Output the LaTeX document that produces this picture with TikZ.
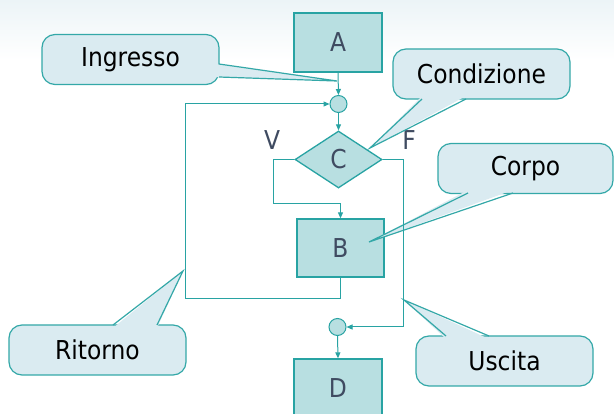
\documentclass[tikz,border=0pt]{standalone}
\usepackage{fontspec}
\setmainfont{DejaVu Sans Condensed}
\usetikzlibrary{arrows.meta,shapes.geometric}

\definecolor{flowline}{RGB}{40,163,163}
\definecolor{boxfill}{RGB}{184,223,225}
\definecolor{calloutfill}{RGB}{218,235,241}
\definecolor{calloutline}{RGB}{52,168,168}
\definecolor{letter}{RGB}{63,75,97}
\definecolor{haze}{RGB}{236,244,247}

\begin{document}
\begin{tikzpicture}[x=1pt,y=-1pt,
  big/.style={font=\fontsize{26}{30}\selectfont},
  stepbox/.style={draw=flowline, fill=boxfill, line width=1.3pt,
    minimum width=88pt, minimum height=59pt, inner sep=0pt, text=letter, big},
  junction/.style={circle, draw=flowline, fill=boxfill, line width=1pt,
    minimum size=17pt, inner sep=0pt},
  test/.style={diamond, draw=flowline, fill=boxfill, line width=1.3pt,
    minimum width=87pt, minimum height=57pt, inner sep=0pt, text=letter, big},
  branch/.style={text=letter, big, inner sep=0pt},
  link/.style={draw=flowline, line width=1pt},
  flow/.style={link, -{Triangle[length=6pt,width=5pt]}},
  bubble/.style={draw=calloutline, fill=calloutfill, line width=1.2pt,
    rounded corners=13pt, minimum width=177pt, minimum height=50pt,
    inner sep=0pt, text=black, big},
  pointerfill/.style={fill=calloutfill},
  pointerline/.style={draw=calloutline, line width=1.2pt, line join=miter},
]
\useasboundingbox (0,0) rectangle (614,414);
\fill[white] (0,0) rectangle (614,414);
\shade[top color=haze, bottom color=white] (0,0) rectangle (614,60);

% flowchart blocks
\node[stepbox] (A) at (338,42.5) {A};
\node[junction] (j1) at (338.5,104) {};
\node[test] (C) at (338.5,159.5) {C};
\node[stepbox, minimum width=87pt, minimum height=58pt] (B) at (340.5,248) {B};
\node[junction] (j2) at (337.5,327) {};
\node[stepbox] (D) at (338,388.5) {D};

\node[branch] (V) at (272,140) {V};
\node[branch] (F) at (409,140) {F};

% callouts
\node[bubble] (ing) at (130.5,59.5) {Ingresso};
\coordinate (ingT) at (337,81);
\fill[pointerfill] (216,64) -- (ingT) -- (216,77) -- cycle;
\draw[pointerline] (219,64) -- (ingT) -- (219,77);

\node[bubble] (cond) at (481.5,74) {Condizione};
\coordinate (condT) at (370,148);
\fill[pointerfill] (422,96) -- (condT) -- (466,96) -- cycle;
\draw[pointerline] (422,99) -- (condT) -- (466,99);

\node[bubble, minimum width=175pt] (corpo) at (525.5,168.5) {Corpo};
\coordinate (corpoT) at (369,242);
\fill[pointerfill] (468,190) -- (corpoT) -- (513,190) -- cycle;
\draw[pointerline] (468,193) -- (corpoT) -- (513,193);

\node[bubble] (rit) at (97.5,350) {Ritorno};
\coordinate (ritT) at (183,271);
\fill[pointerfill] (113,328) -- (ritT) -- (157,328) -- cycle;
\draw[pointerline] (113,325) -- (ritT) -- (157,325);

\node[bubble] (usc) at (504.5,361) {Uscita};
\coordinate (uscT) at (404,300);
\fill[pointerfill] (446,339) -- (uscT) -- (489,339) -- cycle;
\draw[pointerline] (446,336) -- (uscT) -- (489,336);

% connectors
\coordinate (trueBend) at (273,204);
\coordinate (falseBend) at (403,327);
\coordinate (loopBend) at (185,299);

\draw[flow] (A.south) -- (j1.north);
\draw[flow] (j1.south) -- (C.north);
\draw[flow] (C.west) -| (trueBend) -| (B.north);
\draw[flow] (C.east) -| (falseBend) -- (j2.east);
\draw[flow] (B.south) |- (loopBend) |- (j1.west);
\draw[flow] (j2.south) -- (D.north);
\end{tikzpicture}
\end{document}
